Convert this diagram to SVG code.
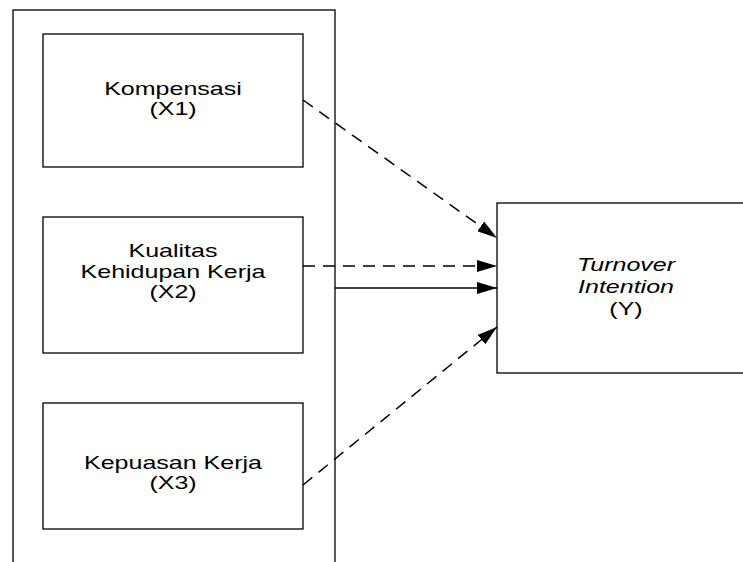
<svg xmlns="http://www.w3.org/2000/svg" width="743" height="562" viewBox="0 0 743 562">
<style>
.box{fill:#fff;stroke:#000;stroke-width:1.3}
.t{font-family:"Liberation Sans",Arial,sans-serif;font-size:17.5px;text-anchor:middle;fill:#000}
.i{font-style:italic}
.c{stroke:#000;stroke-width:1.5;fill:none}
.d{stroke-dasharray:12 8}
</style>
<defs>
<marker id="ah" viewBox="0 0 20 12" refX="20" refY="6" markerWidth="20" markerHeight="12" markerUnits="userSpaceOnUse" orient="auto">
<path d="M0,0 L20,6 L0,12 Z" fill="#000"/>
</marker>
</defs>
<g id="group-outer"><rect class="box" x="13" y="10" width="322" height="570"/></g>
<g id="n-x1"><rect class="box" x="43" y="34" width="260" height="133"/>
<g transform="translate(173 0) scale(1.43 1)"><text class="t" x="0" y="95">Kompensasi</text><text class="t" x="0" y="115">(X1)</text></g></g>
<g id="n-x2"><rect class="box" x="43" y="217" width="260" height="136"/>
<g transform="translate(173 0) scale(1.43 1)"><text class="t" x="0" y="257">Kualitas</text><text class="t" x="0" y="278">Kehidupan Kerja</text><text class="t" x="0" y="298">(X2)</text></g></g>
<g id="n-x3"><rect class="box" x="43" y="403" width="260" height="126"/>
<g transform="translate(173 0) scale(1.43 1)"><text class="t" x="0" y="469">Kepuasan Kerja</text><text class="t" x="0" y="489">(X3)</text></g></g>
<g id="n-y"><rect class="box" x="497" y="203" width="260" height="170"/>
<g transform="translate(626 0) scale(1.43 1)"><text class="t i" x="0" y="271">Turnover</text><text class="t i" x="0" y="293">Intention</text><text class="t" x="0" y="315">(Y)</text></g></g>
<g id="connectors">
<line class="c d" x1="303" y1="100" x2="497" y2="238" marker-end="url(#ah)"/>
<line class="c d" x1="303" y1="266" x2="497" y2="266" marker-end="url(#ah)"/>
<line class="c" x1="335" y1="288" x2="497" y2="288" marker-end="url(#ah)"/>
<line class="c d" x1="303" y1="485" x2="497" y2="327" marker-end="url(#ah)"/>
</g>
</svg>
